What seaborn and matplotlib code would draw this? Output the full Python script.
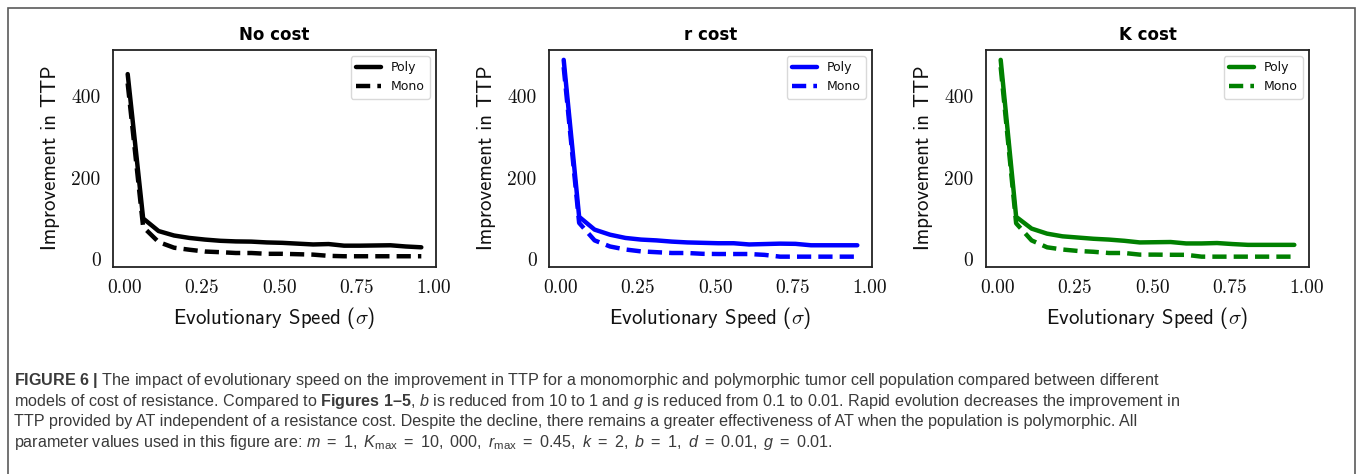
import matplotlib
matplotlib.use("Agg")
import matplotlib.pyplot as plt
import numpy as np
import pandas as pd
import seaborn as sns
from matplotlib import font_manager
from matplotlib.patches import Rectangle

# ---------------- data ----------------
sigma = [0.01, 0.06, 0.11, 0.16, 0.21, 0.26, 0.31, 0.36, 0.41, 0.46,
         0.51, 0.56, 0.61, 0.66, 0.71, 0.76, 0.81, 0.86, 0.91, 0.96]

no_cost_poly = [455, 100, 69, 58, 52, 48, 45, 43.5, 43, 41,
                40, 38, 36, 37, 33, 33, 33.5, 34, 31, 29]
no_cost_mono = [432, 79, 42, 28, 23, 18.6, 17, 15, 15, 13,
                13, 12, 11, 8, 7, 7, 7, 7, 7, 7]

r_cost_poly = [490, 104, 72.5, 60, 52, 48, 46, 43, 41, 40,
               39, 39, 36, 37, 38, 37.5, 34, 34, 34, 34]
r_cost_mono = [472, 89, 46, 31, 23.6, 19, 17, 15, 15, 13,
               12.5, 12.5, 12.5, 10.4, 6, 6, 6, 6, 6, 6]

k_cost_poly = [490, 104, 75, 62.6, 56, 53, 50, 48, 45, 41,
               41.5, 42, 38.5, 38.5, 39.5, 37, 35, 35, 35, 35]
k_cost_mono = [472, 88, 46, 29, 23.6, 20, 18, 15, 15, 11,
               11, 10.6, 10.5, 6, 6, 6, 6, 6, 6, 6]

panel_titles = ["No cost", "r cost", "K cost"]
panel_colors = ["black", "blue", "green"]
series_labels = ["Poly", "Mono"]
x_ticks = [0.0, 0.25, 0.5, 0.75, 1.0]
y_ticks = [0, 200, 400]
x_label = r"Evolutionary Speed ($\sigma$)"
y_label = "Improvement in TTP"

caption_lines = [
    r"$\mathbf{FIGURE\ 6\ |}$ The impact of evolutionary speed on the improvement in TTP for a monomorphic and polymorphic tumor cell population compared between different",
    r"models of cost of resistance. Compared to $\mathbf{Figures\ 1\endash5}$, $b$ is reduced from 10 to 1 and $g$ is reduced from 0.1 to 0.01. Rapid evolution decreases the improvement in",
    r"TTP provided by AT independent of a resistance cost. Despite the decline, there remains a greater effectiveness of AT when the population is polymorphic. All",
    r"parameter values used in this figure are: $m\ =\ 1,\ K_{\mathrm{max}}\ =\ 10,\ 000,\ r_{\mathrm{max}}\ =\ 0.45,\ k\ =\ 2,\ b\ =\ 1,\ d\ =\ 0.01,\ g\ =\ 0.01$.",
]

series = [(no_cost_poly, no_cost_mono), (r_cost_poly, r_cost_mono), (k_cost_poly, k_cost_mono)]

# ---------------- style ----------------
sns.set_theme(style="white")
plt.rcParams["font.family"] = ["DejaVu Sans"]
plt.rcParams["mathtext.fontset"] = "cm"
for k in ["text.color", "axes.labelcolor", "xtick.color", "ytick.color"]:
    plt.rcParams[k] = "#111111"

names = {f.name for f in font_manager.fontManager.ttflist}
cap_font = next(n for n in ["Liberation Sans", "Roboto", "DejaVu Sans"] if n in names)
plt.rcParams["mathtext.rm"] = cap_font
plt.rcParams["mathtext.it"] = cap_font + ":italic"
plt.rcParams["mathtext.bf"] = cap_font + ":bold"

W, H = 1357, 474
fig = plt.figure(figsize=(W / 100, H / 100), dpi=100)
fig.patch.set_facecolor("white")

# outer border
fig.add_artist(Rectangle((7.5 / W, -0.05), (1355 - 7.5) / W, 1 - 8 / H + 0.05,
                         transform=fig.transFigure, fill=False,
                         edgecolor="#5a5a5a", linewidth=1.2))

lefts = [113, 549, 986]
ax_w, ax_top, ax_bot = 323, 50, 266.5
axes = []
for i in range(3):
    rect = [lefts[i] / W, 1 - ax_bot / H, ax_w / W, (ax_bot - ax_top) / H]
    ax = fig.add_axes(rect, sharey=axes[0] if axes else None)
    axes.append(ax)

for ax, title, color, (poly, mono) in zip(axes, panel_titles, panel_colors, series):
    df = pd.DataFrame({"sigma": sigma, "Poly": poly, "Mono": mono})
    sns.lineplot(data=df, x="sigma", y="Poly", color=color, linewidth=3.2,
                 label=series_labels[0], ax=ax)
    sns.lineplot(data=df, x="sigma", y="Mono", color=color, linewidth=3.2,
                 linestyle=(0, (3.2, 1.6)), label=series_labels[1], ax=ax)
    ax.set_title(title, fontsize=12, fontweight="bold", pad=7, color="black")
    ax.set_xticks(x_ticks, labels=[f"{v:.2f}" for v in x_ticks],
                  fontfamily="cmr10", fontsize=14)
    ax.set_yticks(y_ticks, labels=[f"{v:d}" for v in y_ticks],
                  fontfamily="cmr10", fontsize=14)
    ax.tick_params(axis="both", which="both", length=0, pad=9)
    ax.set_xlabel(x_label, fontfamily="cmss10", fontsize=15, labelpad=6)
    ax.set_ylabel(y_label, fontfamily="cmss10", fontsize=15, labelpad=8)
    for s in ax.spines.values():
        s.set_edgecolor("#222222")
        s.set_linewidth(1.3)
    leg = ax.legend(loc="upper right", fontsize=9, frameon=True)
    leg.get_frame().set_edgecolor("#d0d0d0")

# caption
cap_x = 14 / W
baselines = [385, 405.7, 426.3, 447]
texts = []
for line, yb in zip(caption_lines, baselines):
    t = fig.text(cap_x, 1 - yb / H, line, fontfamily=cap_font, math_fontfamily="custom",
                 fontsize=10, color="#3a3a3a", ha="left", va="baseline")
    texts.append(t)

fig.canvas.draw()
r = fig.canvas.get_renderer()
w0 = texts[0].get_window_extent(r).width
fs = 10 * (1149 / w0)
for t in texts:
    t.set_fontsize(fs)

fig.savefig("out.png", dpi=100, facecolor="white")
